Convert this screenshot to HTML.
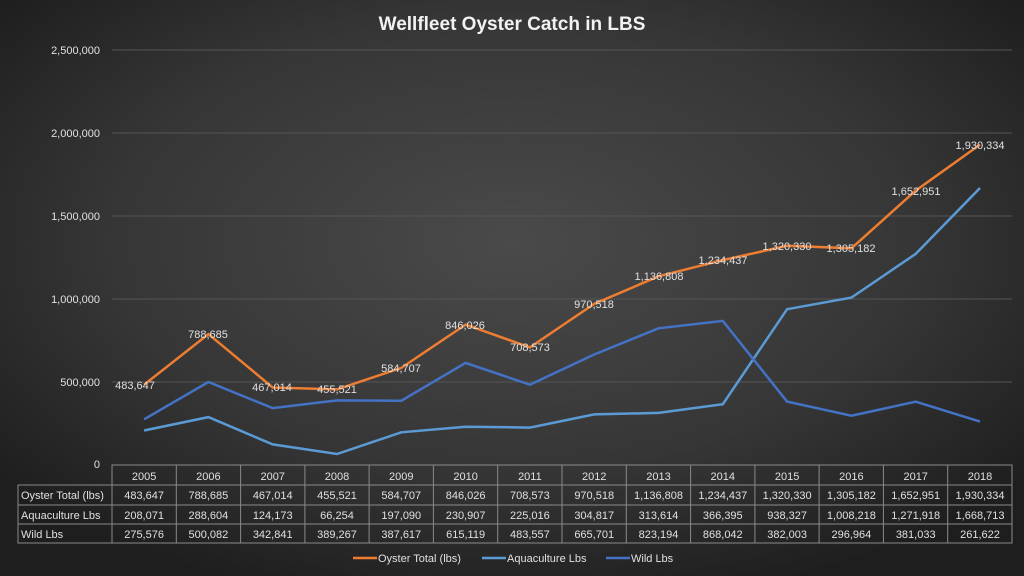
<!DOCTYPE html>
<html><head><meta charset="utf-8"><style>
html,body{margin:0;padding:0;background:#2a2a2a}
svg{display:block}
text{font-family:"Liberation Sans",sans-serif;fill:#e0e0e0}
</style></head><body>
<svg width="1024" height="576" viewBox="0 0 1024 576" xmlns="http://www.w3.org/2000/svg">
<defs><radialGradient id="bg" cx="0.5" cy="0.42" r="0.65">
<stop offset="0" stop-color="#4a4a4a"/><stop offset="0.6" stop-color="#363636"/><stop offset="1" stop-color="#1e1e1e"/></radialGradient></defs>
<rect width="1024" height="576" fill="url(#bg)"/>
<text x="512" y="30" text-anchor="middle" font-size="19" font-weight="bold" fill="#f2f2f2" style="fill:#f2f2f2">Wellfleet Oyster Catch in LBS</text>
<g stroke="#555" stroke-width="1">
<line x1="112" y1="50" x2="1012" y2="50"/><line x1="112" y1="133" x2="1012" y2="133"/><line x1="112" y1="216" x2="1012" y2="216"/><line x1="112" y1="299" x2="1012" y2="299"/><line x1="112" y1="382" x2="1012" y2="382"/>
</g>
<g font-size="11" text-anchor="end">
<text x="100" y="54">2,500,000</text><text x="100" y="137">2,000,000</text><text x="100" y="220">1,500,000</text><text x="100" y="303">1,000,000</text><text x="100" y="386">500,000</text><text x="100" y="468">0</text>
</g>
<polyline fill="none" stroke="#5B9BD5" stroke-width="2.5" points="144.1,430.5 208.4,417.1 272.7,444.4 337,454 401.3,432.3 465.6,426.7 529.9,427.6 594.2,414.4 658.5,412.9 722.8,404.2 787.1,309.2 851.4,297.6 915.7,253.9 980,188"/>
<polyline fill="none" stroke="#4472C4" stroke-width="2.5" points="144.1,419.3 208.4,382 272.7,408.1 337,400.4 401.3,400.7 465.6,362.9 529.9,384.7 594.2,354.5 658.5,328.3 722.8,320.9 787.1,401.6 851.4,415.7 915.7,401.7 980,421.6"/>
<polyline fill="none" stroke="#ED7D31" stroke-width="2.5" points="144.1,384.7 208.4,334.1 272.7,387.5 337,389.4 401.3,367.9 465.6,324.6 529.9,347.4 594.2,303.9 658.5,276.3 722.8,260.1 787.1,245.8 851.4,248.3 915.7,190.6 980,144.6"/>
<g font-size="11" text-anchor="middle">
<text x="135" y="389">483,647</text><text x="208" y="338">788,685</text><text x="272" y="391">467,014</text><text x="337" y="393">455,521</text><text x="401" y="372">584,707</text><text x="465" y="329">846,026</text><text x="530" y="351">708,573</text><text x="594" y="308">970,518</text><text x="659" y="280">1,136,808</text><text x="723" y="264">1,234,437</text><text x="787" y="250">1,320,330</text><text x="851" y="252">1,305,182</text><text x="916" y="195">1,652,951</text><text x="980" y="149">1,930,334</text>
</g>
<g stroke="#8a8a8a" stroke-width="1" fill="none">
<rect x="112" y="465" width="900" height="78"/>
<rect x="18" y="485" width="94" height="58"/>
<line x1="18" y1="505" x2="1012" y2="505"/><line x1="18" y1="524" x2="1012" y2="524"/><line x1="112" y1="485" x2="1012" y2="485"/>
<line x1="176.3" y1="465" x2="176.3" y2="543"/><line x1="240.6" y1="465" x2="240.6" y2="543"/><line x1="304.9" y1="465" x2="304.9" y2="543"/><line x1="369.1" y1="465" x2="369.1" y2="543"/><line x1="433.4" y1="465" x2="433.4" y2="543"/><line x1="497.7" y1="465" x2="497.7" y2="543"/><line x1="562" y1="465" x2="562" y2="543"/><line x1="626.3" y1="465" x2="626.3" y2="543"/><line x1="690.6" y1="465" x2="690.6" y2="543"/><line x1="754.9" y1="465" x2="754.9" y2="543"/><line x1="819.1" y1="465" x2="819.1" y2="543"/><line x1="883.4" y1="465" x2="883.4" y2="543"/><line x1="947.7" y1="465" x2="947.7" y2="543"/>
</g>
<g font-size="11">
<text x="21" y="499">Oyster Total (lbs)</text><text x="21" y="519">Aquaculture Lbs</text><text x="21" y="538">Wild Lbs</text>
</g>
<g font-size="11" text-anchor="middle">
<g transform="translate(0,480)"><text x="144.1">2005</text><text x="208.4">2006</text><text x="272.7">2007</text><text x="337">2008</text><text x="401.3">2009</text><text x="465.6">2010</text><text x="529.9">2011</text><text x="594.2">2012</text><text x="658.5">2013</text><text x="722.8">2014</text><text x="787.1">2015</text><text x="851.4">2016</text><text x="915.7">2017</text><text x="980">2018</text></g>
<g transform="translate(0,499)"><text x="144.1">483,647</text><text x="208.4">788,685</text><text x="272.7">467,014</text><text x="337">455,521</text><text x="401.3">584,707</text><text x="465.6">846,026</text><text x="529.9">708,573</text><text x="594.2">970,518</text><text x="658.5">1,136,808</text><text x="722.8">1,234,437</text><text x="787.1">1,320,330</text><text x="851.4">1,305,182</text><text x="915.7">1,652,951</text><text x="980">1,930,334</text></g>
<g transform="translate(0,519)"><text x="144.1">208,071</text><text x="208.4">288,604</text><text x="272.7">124,173</text><text x="337">66,254</text><text x="401.3">197,090</text><text x="465.6">230,907</text><text x="529.9">225,016</text><text x="594.2">304,817</text><text x="658.5">313,614</text><text x="722.8">366,395</text><text x="787.1">938,327</text><text x="851.4">1,008,218</text><text x="915.7">1,271,918</text><text x="980">1,668,713</text></g>
<g transform="translate(0,538)"><text x="144.1">275,576</text><text x="208.4">500,082</text><text x="272.7">342,841</text><text x="337">389,267</text><text x="401.3">387,617</text><text x="465.6">615,119</text><text x="529.9">483,557</text><text x="594.2">665,701</text><text x="658.5">823,194</text><text x="722.8">868,042</text><text x="787.1">382,003</text><text x="851.4">296,964</text><text x="915.7">381,033</text><text x="980">261,622</text></g>
</g>
<g stroke-width="2.5">
<line x1="353" y1="558" x2="377" y2="558" stroke="#ED7D31"/><line x1="482" y1="558" x2="506" y2="558" stroke="#5B9BD5"/><line x1="606" y1="558" x2="630" y2="558" stroke="#4472C4"/>
</g>
<g font-size="11"><text x="378" y="562">Oyster Total (lbs)</text><text x="507" y="562">Aquaculture Lbs</text><text x="631" y="562">Wild Lbs</text></g>
</svg>
</body></html>
